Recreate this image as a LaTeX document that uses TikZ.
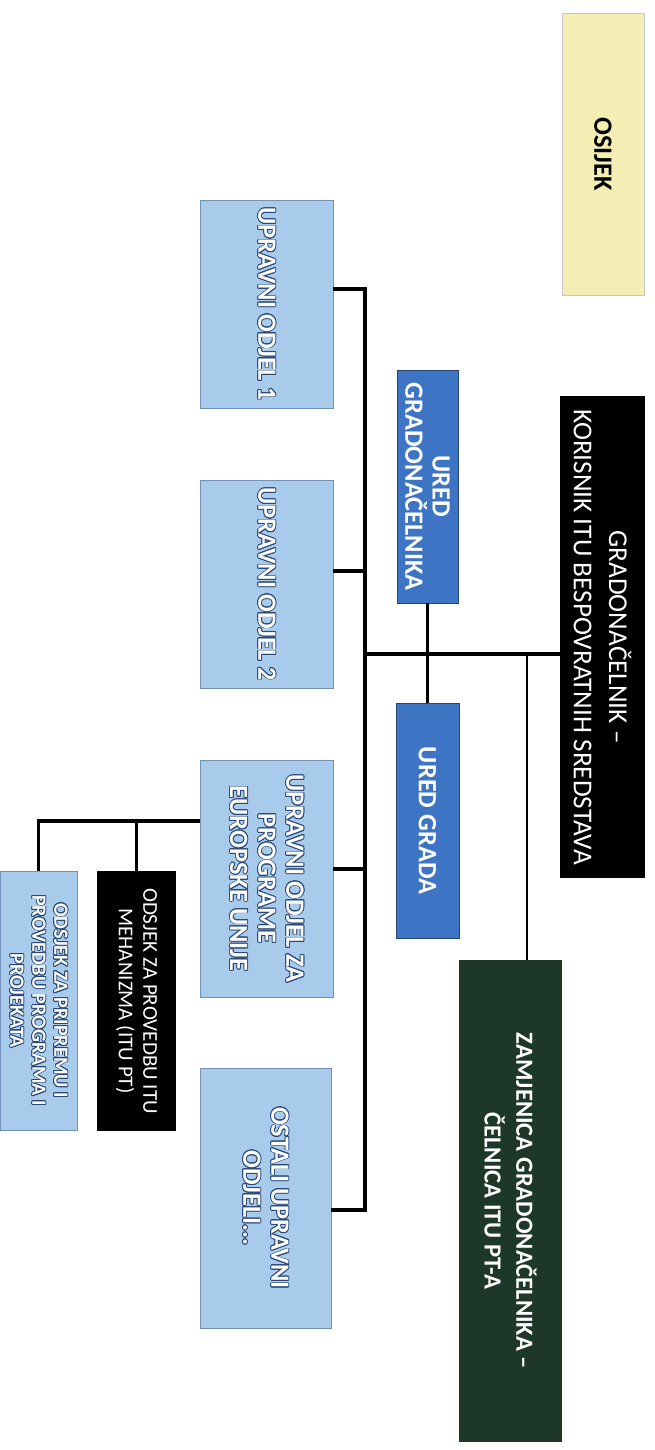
\documentclass[tikz,border=0pt]{standalone}
\usepackage{fontspec}
\setmainfont{Carlito}
\usepackage{contour}
\contourlength{0.45pt}
\usetikzlibrary{positioning}

\definecolor{osijekyellow}{HTML}{F4EDB4}
\definecolor{uredblue}{HTML}{3D74C3}
\definecolor{odjelblue}{HTML}{A9CBEB}
\definecolor{odjelline}{HTML}{7390B8}
\definecolor{zamjgreen}{HTML}{1D3828}
\definecolor{contourblue}{HTML}{2B4A78}

\newcommand{\odjeltext}[1]{\contour{contourblue}{#1}}

\begin{document}
\begin{tikzpicture}[x=0.02cm,y=-0.02cm]
\tikzset{
box/.style = {rectangle, rotate=-90, inner sep=0pt, align=center},
cityblock/.style = {box, fill=osijekyellow, draw=gray!45, line width=0.3pt, font=\bfseries\fontsize{15}{18}\selectfont},
headblock/.style = {box, fill=black, font=\fontsize{15.5}{20}\selectfont, text=white},
uredblock/.style = {box, fill=uredblue, draw=uredblue!60!black, line width=0.5pt, text=white, font=\bfseries\fontsize{15}{15.5}\selectfont},
odjelblock/.style = {box, fill=odjelblue, draw=odjelline, line width=0.4pt, text=white, font=\bfseries\fontsize{15}{16}\selectfont},
zamjblock/.style = {box, fill=zamjgreen, text=white, font=\bfseries\fontsize{14}{18}\selectfont},
odsjekblock/.style = {box, fill=black, text=white, font=\fontsize{12}{14}\selectfont},
smallodjel/.style = {odjelblock, font=\bfseries\fontsize{11.5}{12.5}\selectfont},
link/.style = {line width=2pt},
thinlink/.style = {line width=1.3pt}
}
\useasboundingbox (0,0) rectangle (654,1450);

\node [cityblock, minimum width=5.64cm, minimum height=1.64cm] (osijek) at (603,154) {OSIJEK};
\node [headblock, minimum width=9.64cm, minimum height=1.70cm] (gradonacelnik) at (602.5,637) {GRADONAČELNIK –\\KORISNIK ITU BESPOVRATNIH SREDSTAVA};
\node [uredblock, minimum width=4.66cm, minimum height=1.22cm] (ured1) at (427.5,486.5) {URED\\GRADONAČELNIKA};
\node [uredblock, minimum width=4.70cm, minimum height=1.26cm] (uredgrada) at (427.5,820.5) {URED GRADA};
\node [zamjblock, minimum width=9.64cm, minimum height=2.06cm] (zamjenica) at (510.5,1201) {ZAMJENICA GRADONAČELNIKA –\\ČELNICA ITU PT-A};

\node [odjelblock, minimum width=4.16cm, minimum height=2.66cm] (odjel1) at (266.5,304) {\odjeltext{UPRAVNI ODJEL 1}};
\node [odjelblock, minimum width=4.16cm, minimum height=2.66cm] (odjel2) at (266.5,584) {\odjeltext{UPRAVNI ODJEL 2}};
\node [odjelblock, minimum width=4.74cm, minimum height=2.66cm] (odjeleu) at (266.5,878.5) {\odjeltext{UPRAVNI ODJEL ZA}\\\odjeltext{PROGRAME}\\\odjeltext{EUROPSKE UNIJE}};
\node [odjelblock, minimum width=5.20cm, minimum height=2.62cm] (ostali) at (265.5,1198) {\odjeltext{OSTALI UPRAVNI}\\\odjeltext{ODJELI...}};

\node [odsjekblock, minimum width=5.20cm, minimum height=1.58cm] (odsjekpt) at (136.5,1001) {ODSJEK ZA PROVEDBU ITU\\MEHANIZMA (ITU PT)};
\node [smallodjel, minimum width=5.18cm, minimum height=1.54cm] (odsjekpp) at (38.5,1000.5) {\odjeltext{ODSJEK ZA PRIPREMU I}\\\odjeltext{PROVEDBU PROGRAMA I}\\\odjeltext{PROJEKATA}};

\coordinate (trunktop) at (365,289);
\coordinate (stub2) at (365,571);
\coordinate (branch) at (365,654);
\coordinate (stub3) at (365,869);
\coordinate (trunkbot) at (365,1210);
\coordinate (zamjbranch) at (527,654);
\coordinate (eurail) at (200,821);

\draw [link] (odjel1.north |- trunktop) -- (trunktop) -- (trunkbot) -- (ostali.north |- trunkbot);
\draw [link] (odjel2.north |- stub2) -- (stub2);
\draw [link] (odjeleu.north |- stub3) -- (stub3);
\draw [link] (branch) -- (gradonacelnik.south |- branch);
\draw [link] (ured1.east) -- (uredgrada.west);
\draw [thinlink] (zamjbranch) -- (zamjbranch |- zamjenica.west);

\draw [link] (odjeleu.south |- eurail) -| (odsjekpp.west);
\draw [thinlink] (odsjekpt.west |- eurail) -- (odsjekpt.west);
\end{tikzpicture}
\end{document}
